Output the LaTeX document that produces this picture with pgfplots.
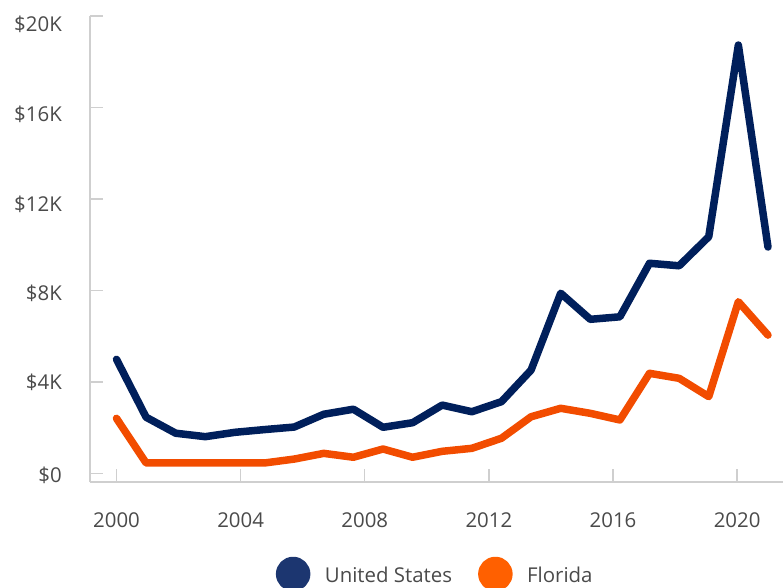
\documentclass[border=0pt]{standalone}
\usepackage{pgfplots}
\pgfplotsset{compat=1.18}
\usepackage{fontspec}
\setmainfont{Open Sans}
\definecolor{usblue}{HTML}{001F5B}
\definecolor{flor}{HTML}{F24C00}
\definecolor{uslegend}{HTML}{1C3670}
\definecolor{florlegend}{HTML}{FF6000}
\definecolor{axisgray}{HTML}{CFCFCF}
\definecolor{labelgray}{HTML}{4A4A4A}
\newcommand{\yl}[2]{\raisebox{#1}[14.2bp][0bp]{#2}}
\begin{document}
\begin{tikzpicture}
\begin{axis}[
  name=main,
  scale only axis,
  width=693bp, height=466bp,
  xmin=1999.146, xmax=2021.479,
  ymin=-0.372, ymax=20,
  axis x line=bottom, axis y line=left,
  axis line style={-, draw=axisgray, line width=1.5bp},
  every outer x axis line/.append style={-},
  every outer y axis line/.append style={-},
  tick align=inside,
  major tick length=13bp,
  tick style={draw=axisgray, line width=1.5bp},
  xtick={2000,2004,2008,2012,2016,2020},
  xticklabels={2000,2004,2008,2012,2016,2020},
  ytick={0,4,8,12,16,20},
  yticklabels={\yl{-1.5bp}{\$0},\yl{0bp}{\$4K},\yl{-3bp}{\$8K},\yl{-5bp}{\$12K},\yl{-6.5bp}{\$16K},\yl{-8.3bp}{\$20K}},
  ticklabel style={font=\fontsize{20.5}{24}\selectfont, text=labelgray, inner sep=0pt},
  xticklabel style={anchor=north, yshift=-30bp},
  yticklabel style={anchor=east, xshift=-28bp},
  legend columns=2,
  legend style={draw=none, fill=none, at={(0.4967,0)}, anchor=center, yshift=-92bp,
    inner sep=0pt, outer sep=0pt, row sep=0pt,
    nodes={inner sep=0pt, text=labelgray, font=\fontsize{20.5}{24}\selectfont},
    /tikz/every odd column/.append style={column sep=14.5bp},
    /tikz/every even column/.append style={column sep=26bp}},
]
\addplot[usblue, line width=7.5bp, line join=round, line cap=round,
  legend image code/.code={\fill[uslegend] (13.5bp,1.7bp) circle (13.5bp);}]
  coordinates {
  (2000.000,4.99) (2000.954,2.46) (2001.909,1.76) (2002.863,1.61)
  (2003.817,1.80) (2004.772,1.92) (2005.726,2.03) (2006.680,2.59)
  (2007.634,2.81) (2008.589,2.02) (2009.543,2.22) (2010.497,2.99)
  (2011.452,2.70) (2012.406,3.14) (2013.360,4.52) (2014.315,7.88)
  (2015.269,6.74) (2016.223,6.85) (2017.177,9.19) (2018.132,9.08)
  (2019.086,10.35) (2020.040,18.73) (2020.995,9.90)
  };
\addlegendentry{United States}
\addplot[flor, line width=7.5bp, line join=round, line cap=round,
  legend image code/.code={\fill[florlegend] (13.5bp,1.7bp) circle (13.5bp);}]
  coordinates {
  (2000.000,2.41) (2000.954,0.46) (2001.909,0.46) (2002.863,0.46)
  (2003.817,0.46) (2004.772,0.46) (2005.726,0.63) (2006.680,0.88)
  (2007.634,0.71) (2008.589,1.07) (2009.543,0.71) (2010.497,0.97)
  (2011.452,1.10) (2012.406,1.54) (2013.360,2.48) (2014.315,2.85)
  (2015.269,2.63) (2016.223,2.34) (2017.177,4.38) (2018.132,4.16)
  (2019.086,3.36) (2020.040,7.51) (2020.995,6.05)
  };
\addlegendentry{Florida}
\end{axis}
\pgfresetboundingbox
\path[use as bounding box] ([shift={(-90bp,-106bp)}]main.south west) rectangle ([shift={(693bp,482bp)}]main.south west);
\end{tikzpicture}
\end{document}
